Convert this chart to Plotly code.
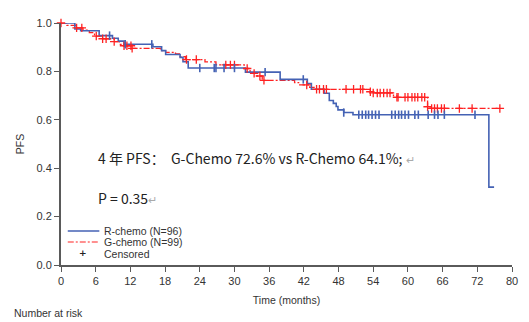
import bisect
import plotly.graph_objects as go

# ---- R-chemo arm (N=96): step times (months) and PFS after each step ----
r_event_t = [2.4, 3.4, 6.6, 8.9, 9.9, 10.9, 15.9, 17.4, 18.1, 20.6, 21.1, 22.0,
             31.9, 37.9, 42.6, 43.3, 45.5, 46.4, 47.1, 47.6, 47.9, 48.9, 50.5, 74.0]
r_event_s = [0.975, 0.968, 0.948, 0.937, 0.925, 0.912, 0.902, 0.886, 0.870, 0.858,
             0.840, 0.814, 0.797, 0.767, 0.750, 0.726, 0.710, 0.680, 0.668, 0.655,
             0.641, 0.630, 0.621, 0.322]
r_last_t = 74.9
r_cens_t = [8.4, 11.1, 15.7, 24.0, 26.5, 26.8, 28.2, 30.0, 35.3, 41.9, 48.9,
            51.5, 52.1, 52.7, 53.2, 53.8, 54.4, 55.0, 57.2, 57.8, 58.4, 58.9,
            59.5, 60.1, 61.2, 61.8, 63.5, 64.6, 65.2, 66.3, 71.6]

# ---- G-chemo arm (N=99) ----
g_event_t = [1.0, 2.7, 3.8, 4.9, 5.8, 7.2, 9.2, 10.1, 10.9, 12.3, 17.2, 18.1,
             19.8, 20.6, 21.5, 24.9, 26.8, 31.7, 32.7, 33.9, 34.8, 40.4, 41.1,
             43.0, 43.8, 53.5, 54.0, 57.5, 58.1, 63.4, 64.1]
g_event_s = [0.990, 0.980, 0.970, 0.960, 0.946, 0.935, 0.923, 0.912, 0.906,
             0.895, 0.886, 0.879, 0.872, 0.861, 0.849, 0.839, 0.827, 0.812,
             0.792, 0.781, 0.763, 0.754, 0.744, 0.734, 0.726, 0.716, 0.711,
             0.699, 0.693, 0.654, 0.647]
g_last_t = 75.9
g_cens_t = [0.0, 2.7, 3.6, 6.1, 7.2, 7.8, 9.2, 10.9, 11.4, 12.1, 12.3, 21.7,
            23.4, 28.5, 29.3, 30.0, 32.2, 33.4, 34.4, 35.1, 42.5, 44.2, 44.7,
            45.4, 45.9, 49.3, 50.6, 51.8, 52.2, 53.5, 54.0, 54.7, 55.2, 55.8,
            56.4, 56.9, 58.1, 58.3, 59.5, 60.0, 60.7, 61.2, 61.7, 62.4, 62.9,
            63.4, 64.1, 64.6, 65.1, 65.8, 66.3, 68.9, 71.1, 75.9]

# ---- axis ticks ----
x_tick_vals = [0, 6, 12, 18, 24, 30, 36, 42, 48, 54, 60, 66, 72, 78]
x_tick_text = ["0", "6", "12", "18", "24", "30", "36", "42", "48", "54",
               "60", "66", "72", "80"]
y_tick_vals = [0.0, 0.2, 0.4, 0.6, 0.8, 1.0]
y_tick_text = ["0.0", "0.2", "0.4", "0.6", "0.8", "1.0"]

BLUE = "#4462b4"
RED = "#ff2222"
AXIS = "#5a5a5a"
SANS = "Liberation Sans, Arial, sans-serif"
CJK = "Noto Sans CJK SC, Microsoft YaHei, sans-serif"
RED_DASH = "6px,2px,2px,2px"


def step_curve(times, surv, last):
    xs = [0.0] + list(times) + [last]
    ys = [1.0] + list(surv) + [surv[-1]]
    return xs, ys


def surv_at(times, surv, t):
    i = bisect.bisect_right(times, t)
    return 1.0 if i == 0 else surv[i - 1]


fig = go.Figure()

rx, ry = step_curve(r_event_t, r_event_s, r_last_t)
gx, gy = step_curve(g_event_t, g_event_s, g_last_t)

fig.add_trace(go.Scatter(x=gx, y=gy, mode="lines", line_shape="hv",
                         line=dict(color=RED, width=1.3, dash=RED_DASH),
                         name="G-chemo (N=99)", showlegend=False, cliponaxis=False))
fig.add_trace(go.Scatter(x=rx, y=ry, mode="lines", line_shape="hv",
                         line=dict(color=BLUE, width=1.6),
                         name="R-chemo (N=96)", showlegend=False, cliponaxis=False))

fig.add_trace(go.Scatter(
    x=g_cens_t, y=[surv_at(g_event_t, g_event_s, t) for t in g_cens_t],
    mode="markers", showlegend=False, cliponaxis=False,
    marker=dict(symbol="cross-thin", size=6, line=dict(color=RED, width=1.3))))
fig.add_trace(go.Scatter(
    x=r_cens_t, y=[surv_at(r_event_t, r_event_s, t) for t in r_cens_t],
    mode="markers", showlegend=False, cliponaxis=False,
    marker=dict(symbol="line-ns", size=6, line=dict(color=BLUE, width=1.6))))

annotations = [
    dict(x=6.0, y=0.442, xref="x", yref="y", xanchor="left", yanchor="middle",
         showarrow=False, font=dict(family=CJK, size=14, color="#222"),
         text="4 年 PFS：  G-Chemo 72.6% vs R-Chemo 64.1%; "
              "<span style='color:#aaaaaa;font-size:11px'>↵</span>"),
    dict(x=6.0, y=0.277, xref="x", yref="y", xanchor="left", yanchor="middle",
         showarrow=False, font=dict(family=CJK, size=14, color="#222"),
         text="P = 0.35<span style='color:#aaaaaa;font-size:11px'>↵</span>"),
    dict(x=-0.109, y=-0.198, xref="paper", yref="paper", xanchor="left",
         yanchor="middle", showarrow=False,
         font=dict(family=SANS, size=10.5, color="#333"), text="Number at risk"),
    # legend labels
    dict(x=0.092, y=0.140, xref="paper", yref="paper", xanchor="left",
         yanchor="middle", showarrow=False,
         font=dict(family=SANS, size=10.5, color="#333"), text="R-chemo (N=96)"),
    dict(x=0.092, y=0.093, xref="paper", yref="paper", xanchor="left",
         yanchor="middle", showarrow=False,
         font=dict(family=SANS, size=10.5, color="#333"), text="G-chemo (N=99)"),
    dict(x=0.092, y=0.046, xref="paper", yref="paper", xanchor="left",
         yanchor="middle", showarrow=False,
         font=dict(family=SANS, size=10.5, color="#333"), text="Censored"),
    dict(x=0.048, y=0.048, xref="paper", yref="paper", xanchor="center",
         yanchor="middle", showarrow=False,
         font=dict(family="DejaVu Sans", size=9, color="#222"), text="<b>+</b>"),
]

shapes = [
    dict(type="line", xref="paper", yref="paper", x0=0.015, x1=0.085,
         y0=0.140, y1=0.140, line=dict(color=BLUE, width=1.5)),
    dict(type="line", xref="paper", yref="paper", x0=0.015, x1=0.085,
         y0=0.095, y1=0.095, line=dict(color=RED, width=1.2, dash=RED_DASH)),
]

fig.update_layout(
    width=529, height=322,
    margin=dict(l=61, r=11, t=23, b=57),
    paper_bgcolor="white", plot_bgcolor="white",
    annotations=annotations, shapes=shapes, showlegend=False,
)

fig.update_xaxes(
    range=[0, 78], tickvals=x_tick_vals, ticktext=x_tick_text,
    showgrid=False, zeroline=False, showline=True, linecolor=AXIS, linewidth=1.5,
    ticks="outside", ticklen=5, tickwidth=1.2, tickcolor=AXIS,
    tickfont=dict(family=SANS, size=11, color="#333"),
    title=dict(text="Time (months)", standoff=11,
               font=dict(family=SANS, size=10.5, color="#333")),
)
fig.update_yaxes(
    range=[0, 1.0], tickvals=y_tick_vals, ticktext=y_tick_text,
    showgrid=False, zeroline=False, showline=True, linecolor=AXIS, linewidth=2,
    ticks="outside", ticklen=5, tickwidth=1.2, tickcolor=AXIS,
    tickfont=dict(family=SANS, size=11, color="#333"),
    title=dict(text="PFS", standoff=10,
               font=dict(family=SANS, size=10.5, color="#333")),
)

fig.write_html("out.html")
